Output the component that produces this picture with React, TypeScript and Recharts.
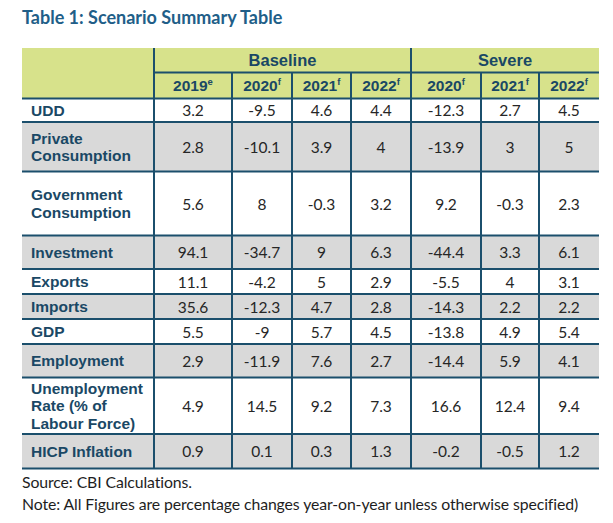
import React from 'react'
import { Surface, Layer, Rectangle, Text } from 'recharts'

// table content
const title = 'Table 1: Scenario Summary Table'
const scenarios = ['Baseline', 'Severe']
const years = ['2019', '2020', '2021', '2022', '2020', '2021', '2022']
const yearMarks = ['e', 'f', 'f', 'f', 'f', 'f', 'f']
const rowLabels = [
  ['UDD'],
  ['Private', 'Consumption'],
  ['Government', 'Consumption'],
  ['Investment'],
  ['Exports'],
  ['Imports'],
  ['GDP'],
  ['Employment'],
  ['Unemployment', 'Rate (% of', 'Labour Force)'],
  ['HICP Inflation'],
]
const base2019 = [3.2, 2.8, 5.6, 94.1, 11.1, 35.6, 5.5, 2.9, 4.9, 0.9]
const base2020 = [-9.5, -10.1, 8, -34.7, -4.2, -12.3, -9, -11.9, 14.5, 0.1]
const base2021 = [4.6, 3.9, -0.3, 9, 5, 4.7, 5.7, 7.6, 9.2, 0.3]
const base2022 = [4.4, 4, 3.2, 6.3, 2.9, 2.8, 4.5, 2.7, 7.3, 1.3]
const sev2020 = [-12.3, -13.9, 9.2, -44.4, -5.5, -14.3, -13.8, -14.4, 16.6, -0.2]
const sev2021 = [2.7, 3, -0.3, 3.3, 4, 2.2, 4.9, 5.9, 12.4, -0.5]
const sev2022 = [4.5, 5, 2.3, 6.1, 3.1, 2.2, 5.4, 4.1, 9.4, 1.2]
const notes = [
  'Source: CBI Calculations.',
  'Note: All Figures are percentage changes year-on-year unless otherwise specified)',
]

const columns = [base2019, base2020, base2021, base2022, sev2020, sev2021, sev2022]

// layout
const W = 613
const H = 523
const colX = [22, 154, 232, 292, 351, 411, 481, 539, 599]
const scenarioSpan = [[1, 5], [5, 8]]
const headTop = 48
const headMid = 72.5
const headBottom = 98.5
const rowH = [23.5, 49.5, 64, 33.5, 25, 25, 25, 33.5, 56.5, 34.5]
const lineH = 17.5

const GREEN = '#d7e28b'
const GREY = '#d9d9d9'
const BORDER = '#1b4f6c'
const LABEL = '#1a4865'
const VALUE = '#262626'

const armFont = '"Liberation Sans", Arial, sans-serif'
const latoFont = 'Lato, "Noto Sans", sans-serif'

const rowTops: number[] = []
rowH.reduce((y, h) => {
  rowTops.push(y)
  return y + h
}, headBottom)
const tableBottom = rowTops[rowTops.length - 1] + rowH[rowH.length - 1]

const hLine = (x1: number, x2: number, y: number, key: string) => (
  <Rectangle key={key} x={x1} y={y - 1} width={x2 - x1} height={2} fill={BORDER} />
)
const vLine = (x: number, y1: number, y2: number, key: string) => (
  <Rectangle key={key} x={x - 1} y={y1} width={2} height={y2 - y1} fill={BORDER} />
)

export default function App() {
  const left = colX[0]
  const right = colX[colX.length - 1]
  return (
    <div style={{ position: 'absolute', left: 0, top: 0, width: W, height: H, background: '#fff' }}>
      <Surface width={W} height={H} viewBox={{ x: 0, y: 0, width: W, height: H }}>
        <Text x={22} y={18} verticalAnchor="middle" fontFamily={latoFont} fontWeight={700} fontSize={18} fill="#215e88">
          {title}
        </Text>

        {/* backgrounds */}
        <Layer>
          <Rectangle x={left} y={headTop} width={right - left} height={headBottom - headTop} fill={GREEN} />
          {rowH.map((h, i) => (
            <Rectangle key={'bg' + i} x={left} y={rowTops[i]} width={right - left} height={h} fill={i % 2 ? GREY : '#ffffff'} />
          ))}
        </Layer>

        {/* grid */}
        <Layer>
          {hLine(colX[1], right, headMid, 'hm')}
          {hLine(left, right, headBottom, 'hb')}
          {rowH.map((h, i) => hLine(left, right, rowTops[i] + h, 'h' + i))}
          {colX.slice(1, -1).map((x, i) =>
            vLine(x, scenarioSpan.some((s) => colX[s[0]] === x) ? headTop : headMid, tableBottom, 'v' + i)
          )}
        </Layer>

        {/* header */}
        <Layer>
          {scenarios.map((s, i) => (
            <Text key={s} x={(colX[scenarioSpan[i][0]] + colX[scenarioSpan[i][1]]) / 2} y={(headTop + headMid) / 2}
              textAnchor="middle" verticalAnchor="middle" fontFamily={armFont} fontWeight={700} fontSize={16.5} fill={LABEL}>
              {s}
            </Text>
          ))}
          {years.map((yr, i) => (
            <text key={'yr' + i} x={(colX[i + 1] + colX[i + 2]) / 2} y={(headMid + headBottom) / 2} dy="0.36em"
              textAnchor="middle" fontFamily={armFont} fontWeight={700} fontSize={15.5} fill={LABEL}>
              {yr}
              <tspan fontSize={9.5} dy={-6}>{yearMarks[i]}</tspan>
            </text>
          ))}
        </Layer>

        {/* body */}
        <Layer>
          {rowLabels.map((lines, i) => {
            const cy = rowTops[i] + rowH[i] / 2
            return lines.map((ln, j) => (
              <Text key={'l' + i + j} x={31} y={cy + (j - (lines.length - 1) / 2) * lineH} verticalAnchor="middle"
                fontFamily={armFont} fontWeight={700} fontSize={15.5} fill={LABEL}>
                {ln}
              </Text>
            ))
          })}
          {columns.map((col, c) =>
            col.map((v, i) => (
              <Text key={'c' + c + 'r' + i} x={(colX[c + 1] + colX[c + 2]) / 2} y={rowTops[i] + rowH[i] / 2 + 0.5}
                textAnchor="middle" verticalAnchor="middle" fontFamily={latoFont} fontSize={15.5} fill={VALUE}>
                {String(v)}
              </Text>
            ))
          )}
        </Layer>

        {notes.map((n, i) => (
          <Text key={'n' + i} x={22} y={482 + i * 22} verticalAnchor="middle" fontFamily={latoFont} fontSize={15.8}
            letterSpacing={-0.1} fill="#1e1e1e">
            {n}
          </Text>
        ))}
      </Surface>
    </div>
  )
}
